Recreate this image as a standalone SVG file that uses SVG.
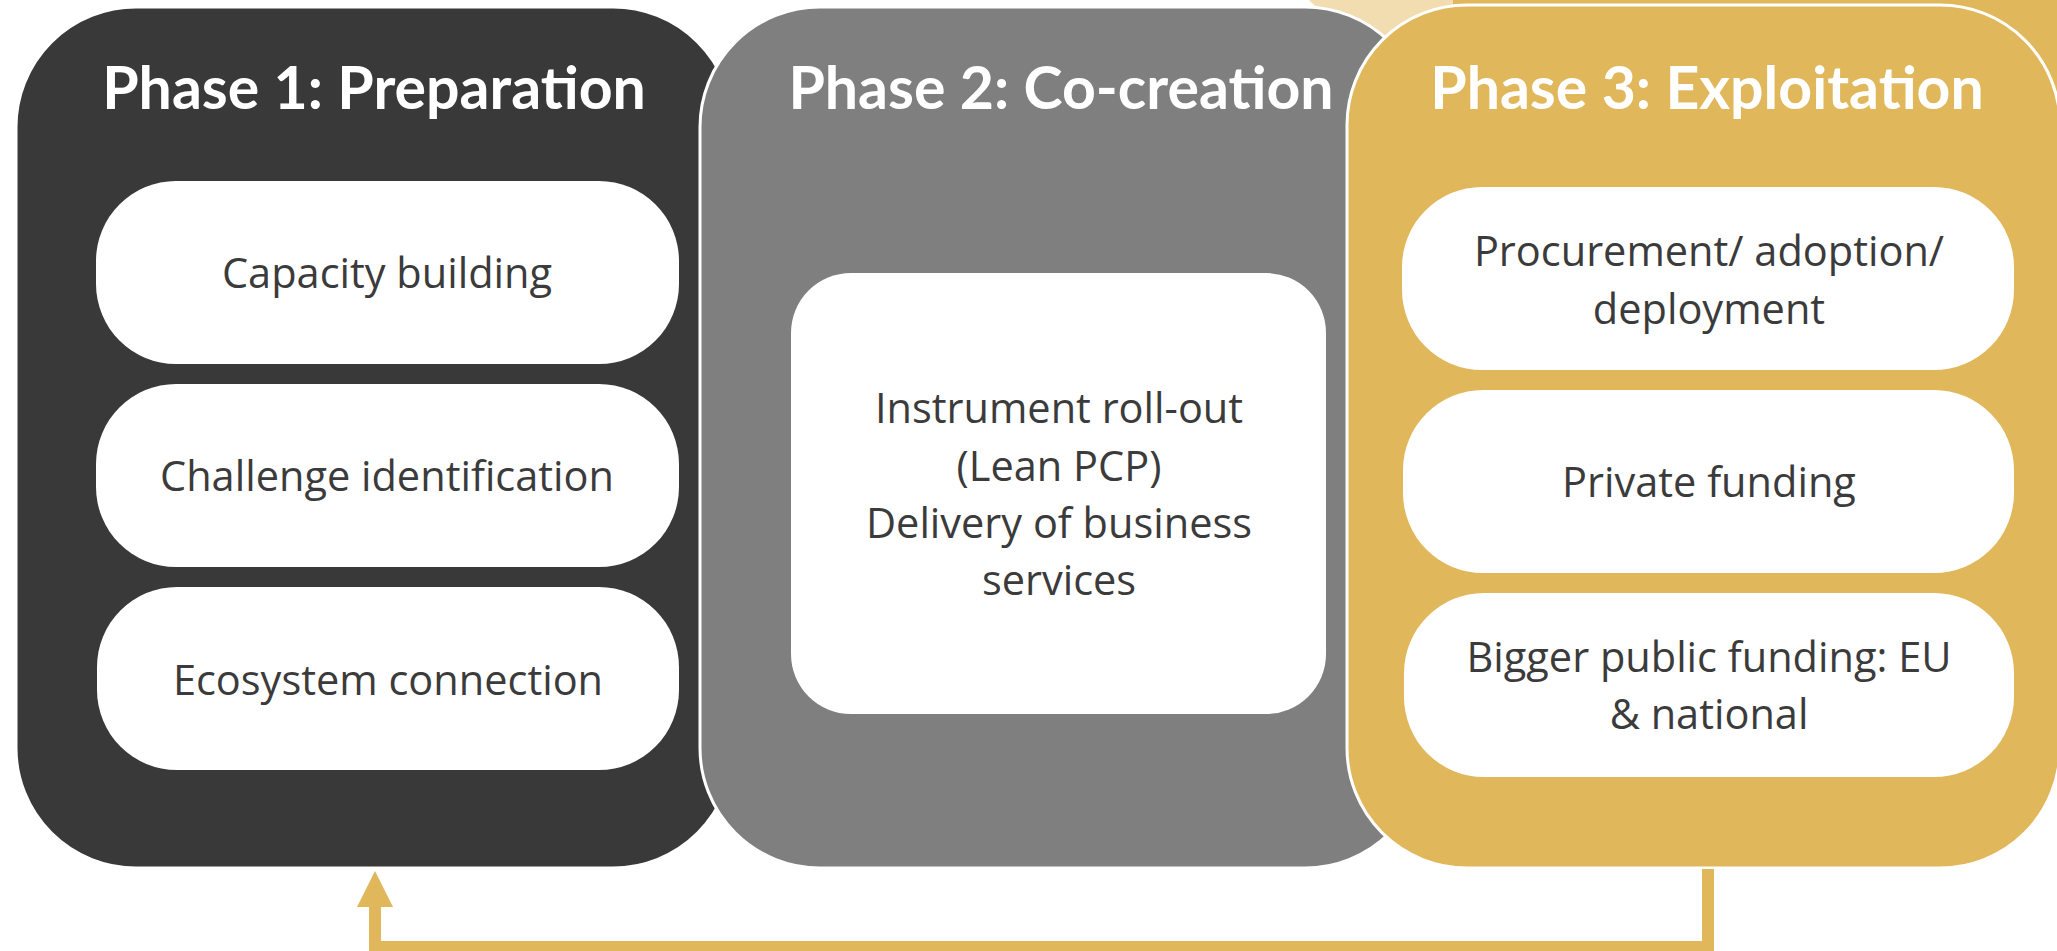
<svg xmlns="http://www.w3.org/2000/svg" width="2057" height="951" viewBox="0 0 2057 951">
  <defs>
    <style>
      .title { font-family: Lato, "Open Sans", "Liberation Sans", sans-serif; font-weight: 700; font-size: 59px; fill: #FFFFFF; text-anchor: middle; }
      .body { font-family: "Open Sans", Lato, "Liberation Sans", sans-serif; font-size: 41.5px; fill: #3B3B3B; text-anchor: middle; }
      .pill { fill: #FFFFFF; }
      .phase { stroke: #FFFFFF; stroke-width: 3; }
      .conn { fill: none; stroke: #E0B75B; stroke-width: 12; stroke-linejoin: miter; }
    </style>
    <marker id="arrow" markerUnits="userSpaceOnUse" markerWidth="36" markerHeight="36" viewBox="0 0 36 36" refX="0" refY="18" orient="auto">
      <path d="M0,0 L36,18 L0,36 Z" fill="#E0B75B"/>
    </marker>
  </defs>
  <rect width="2057" height="951" fill="#FFFFFF"/>

  <g id="background-shapes">
    <path d="M1298,-20 Q1304,2 1328,14 L1345,90 L1460,90 L1460,-20 Z" fill="#F1DDB0"/>
    <rect x="1453" y="-20" width="620" height="210" fill="#E0B75B"/>
  </g>

  <g id="phase1">
    <rect class="phase" x="16" y="7" width="717" height="861" rx="120" ry="120" fill="#393939"/>
    <text class="title" x="374" y="109">Phase 1: Preparation</text>
    <g id="p1-capacity">
      <rect class="pill" x="96" y="181" width="583" height="183" rx="80" ry="80"/>
      <text class="body" x="387" y="288">Capacity building</text>
    </g>
    <g id="p1-challenge">
      <rect class="pill" x="96" y="384" width="583" height="183" rx="80" ry="80"/>
      <text class="body" x="387" y="491">Challenge identification</text>
    </g>
    <g id="p1-ecosystem">
      <rect class="pill" x="97" y="587" width="582" height="183" rx="80" ry="80"/>
      <text class="body" x="388" y="695">Ecosystem connection</text>
    </g>
  </g>

  <g id="phase2">
    <rect class="phase" x="700" y="7" width="725" height="861" rx="120" ry="120" fill="#7F7F7F"/>
    <text class="title" x="1061" y="109">Phase 2: Co-creation</text>
    <g id="p2-instrument">
      <rect class="pill" x="791" y="273" width="535" height="441" rx="60" ry="60"/>
      <text class="body" x="1059" y="423">Instrument roll-out</text>
      <text class="body" x="1059" y="481">(Lean PCP)</text>
      <text class="body" x="1059" y="538">Delivery of business</text>
      <text class="body" x="1059" y="595">services</text>
    </g>
  </g>

  <g id="phase3">
    <rect class="phase" x="1347" y="5" width="713" height="863" rx="120" ry="120" fill="#E0B75B"/>
    <text class="title" x="1707" y="109">Phase 3: Exploitation</text>
    <g id="p3-procurement">
      <rect class="pill" x="1402" y="187" width="612" height="183" rx="80" ry="80"/>
      <text class="body" x="1709" y="266">Procurement/ adoption/</text>
      <text class="body" x="1709" y="324">deployment</text>
    </g>
    <g id="p3-private">
      <rect class="pill" x="1403" y="390" width="611" height="183" rx="80" ry="80"/>
      <text class="body" x="1709" y="497">Private funding</text>
    </g>
    <g id="p3-public">
      <rect class="pill" x="1404" y="593" width="610" height="184" rx="80" ry="80"/>
      <text class="body" x="1709" y="672">Bigger public funding: EU</text>
      <text class="body" x="1709" y="729">&amp; national</text>
    </g>
  </g>

  <g id="connectors">
    <path class="conn" d="M1708,869 V947 H375 V907" marker-end="url(#arrow)"/>
  </g>
</svg>
